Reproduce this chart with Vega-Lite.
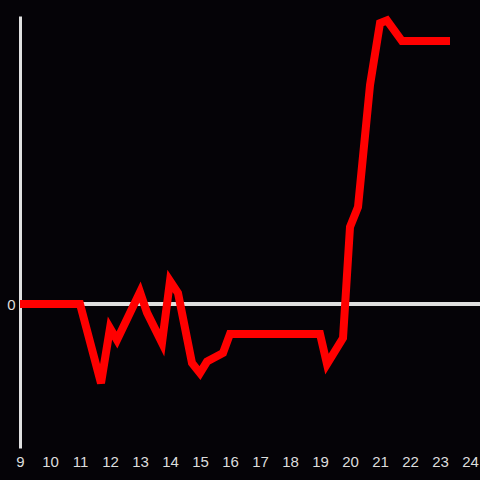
{
  "$schema": "https://vega.github.io/schema/vega-lite/v6.json",
  "autosize": "none",
  "width": 460,
  "height": 432,
  "padding": {"left": 20, "top": 16, "right": 0, "bottom": 32},
  "background": "#050307",
  "config": {"view": {"stroke": null}, "font": "Liberation Sans"},
  "data": {"values": [
    {"hour": 9, "value": 0},
    {"hour": 11, "value": 0},
    {"hour": 11.7, "value": -0.55},
    {"hour": 12, "value": -0.167},
    {"hour": 12.233, "value": -0.25},
    {"hour": 13, "value": 0.083},
    {"hour": 13.233, "value": -0.06},
    {"hour": 13.733, "value": -0.27},
    {"hour": 14, "value": 0.16},
    {"hour": 14.267, "value": 0.076},
    {"hour": 14.733, "value": -0.41},
    {"hour": 15, "value": -0.48},
    {"hour": 15.233, "value": -0.4},
    {"hour": 15.767, "value": -0.34},
    {"hour": 16, "value": -0.208},
    {"hour": 19, "value": -0.208},
    {"hour": 19.233, "value": -0.417},
    {"hour": 19.767, "value": -0.236},
    {"hour": 20, "value": 0.535},
    {"hour": 20.267, "value": 0.674},
    {"hour": 20.667, "value": 1.52},
    {"hour": 21, "value": 1.95},
    {"hour": 21.233, "value": 1.97},
    {"hour": 21.733, "value": 1.826},
    {"hour": 23.333, "value": 1.826}
  ]},
  "layer": [
    {
      "mark": {"type": "rule", "color": "#e0e0e0", "strokeWidth": 3},
      "encoding": {"y": {"datum": 0, "type": "quantitative", "scale": {"domain": [-1, 2]}}}
    },
    {
      "mark": {"type": "line", "color": "#ff0000", "strokeWidth": 8, "strokeCap": "butt", "strokeJoin": "miter"},
      "encoding": {
        "x": {"field": "hour", "type": "quantitative", "scale": {"domain": [9, 24.333], "nice": false, "zero": false},
          "axis": {"title": null, "values": [9,10,11,12,13,14,15,16,17,18,19,20,21,22,23,24], "format": "d", "grid": false, "domain": false, "ticks": false, "labelPadding": 6, "labelColor": "#dddddd", "labelFontSize": 15, "labelFont": "Liberation Sans", "labelOverlap": false, "labelFlush": false}},
        "y": {"field": "value", "type": "quantitative", "scale": {"domain": [-1, 2], "nice": false, "zero": false},
          "axis": {"title": null, "values": [0], "format": "d", "grid": false, "ticks": false, "domainColor": "#e0e0e0", "domainWidth": 3, "labelPadding": 5, "labelColor": "#dddddd", "labelFontSize": 15, "labelFont": "Liberation Sans"}}
      }
    }
  ]
}
